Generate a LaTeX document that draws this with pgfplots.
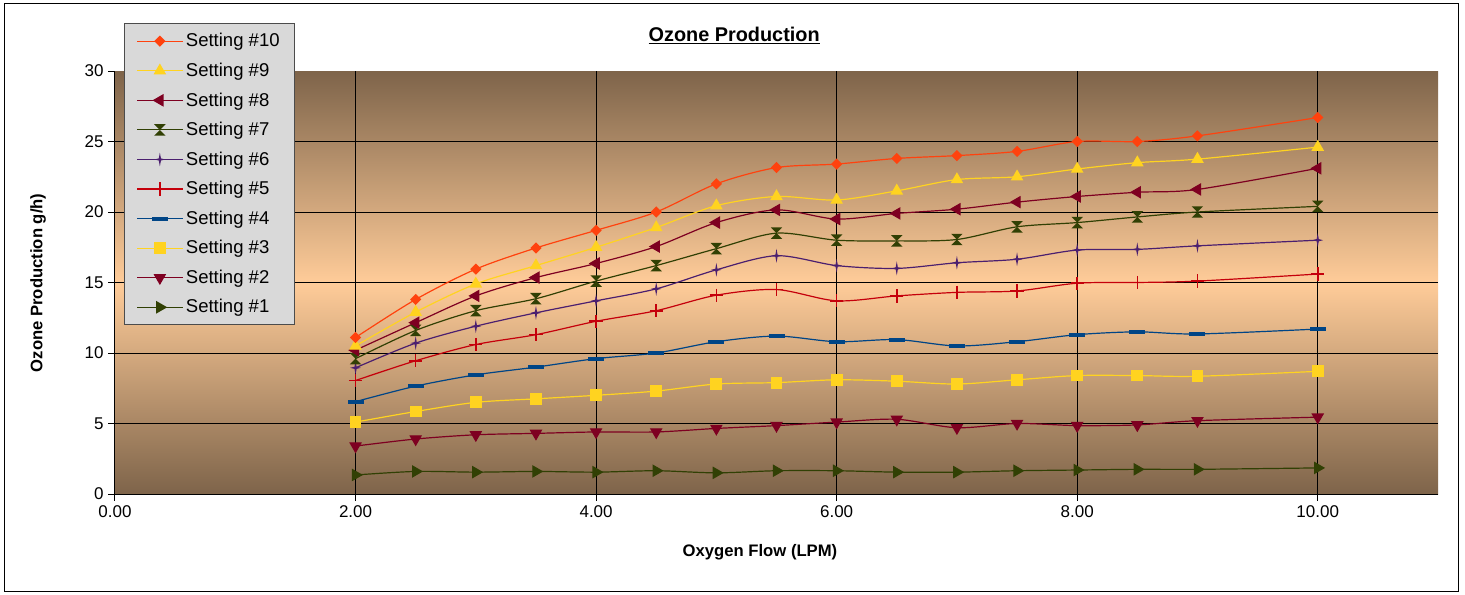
\documentclass[border=0pt]{standalone}
\usepackage{pgfplots}
\pgfplotsset{compat=1.18}
\usepackage{pgfplotstable}
\usepackage{fontspec}
\setmainfont{Liberation Sans}
\definecolor{bgbrown}{HTML}{7E644A}
\definecolor{bgpeach}{HTML}{FFCC99}
\definecolor{cOrange}{HTML}{FF420E}
\definecolor{cYellow}{HTML}{FFD320}
\definecolor{cDarkRed}{HTML}{7E0021}
\definecolor{cOlive}{HTML}{314004}
\definecolor{cPurple}{HTML}{4B1F6F}
\definecolor{cRed}{HTML}{C5000B}
\definecolor{cBlue}{HTML}{004586}
\definecolor{legfill}{HTML}{D9D9D9}

\pgfdeclareplotmark{mydiamond}{%
  \pgfpathmoveto{\pgfqpoint{0pt}{\pgfplotmarksize}}%
  \pgfpathlineto{\pgfqpoint{\pgfplotmarksize}{0pt}}%
  \pgfpathlineto{\pgfqpoint{0pt}{-\pgfplotmarksize}}%
  \pgfpathlineto{\pgfqpoint{-\pgfplotmarksize}{0pt}}%
  \pgfpathclose\pgfusepathqfill}
\pgfdeclareplotmark{hourglass}{%
  \pgfpathmoveto{\pgfqpoint{-\pgfplotmarksize}{\pgfplotmarksize}}%
  \pgfpathlineto{\pgfqpoint{\pgfplotmarksize}{\pgfplotmarksize}}%
  \pgfpathlineto{\pgfqpoint{-\pgfplotmarksize}{-\pgfplotmarksize}}%
  \pgfpathlineto{\pgfqpoint{\pgfplotmarksize}{-\pgfplotmarksize}}%
  \pgfpathclose\pgfusepathqfill}
\pgfdeclareplotmark{fourstar}{%
  \pgfpathmoveto{\pgfpoint{0pt}{1.3\pgfplotmarksize}}%
  \pgfpathlineto{\pgfpoint{0.2\pgfplotmarksize}{0.2\pgfplotmarksize}}%
  \pgfpathlineto{\pgfpoint{\pgfplotmarksize}{0pt}}%
  \pgfpathlineto{\pgfpoint{0.2\pgfplotmarksize}{-0.2\pgfplotmarksize}}%
  \pgfpathlineto{\pgfpoint{0pt}{-1.3\pgfplotmarksize}}%
  \pgfpathlineto{\pgfpoint{-0.2\pgfplotmarksize}{-0.2\pgfplotmarksize}}%
  \pgfpathlineto{\pgfpoint{-\pgfplotmarksize}{0pt}}%
  \pgfpathlineto{\pgfpoint{-0.2\pgfplotmarksize}{0.2\pgfplotmarksize}}%
  \pgfpathclose\pgfusepathqfill}
\pgfdeclareplotmark{hbar}{%
  \pgfpathrectangle{\pgfpoint{-\pgfplotmarksize}{-0.25\pgfplotmarksize}}{\pgfpoint{2\pgfplotmarksize}{0.5\pgfplotmarksize}}%
  \pgfusepathqfill}

\pgfplotstableread{
x    s1   s2   s3   s4    s5    s6    s7    s8    s9    s10
2    1.35 3.40 5.10 6.55  8.05  8.95  9.60  10.20 10.50 11.10
2.5  1.60 3.90 5.85 7.65  9.45  10.70 11.60 12.15 12.90 13.80
3    1.55 4.20 6.50 8.45  10.60 11.90 13.00 14.05 14.90 15.95
3.5  1.60 4.30 6.75 9.00  11.30 12.85 13.85 15.35 16.20 17.45
4    1.55 4.40 7.00 9.60  12.25 13.70 15.10 16.35 17.50 18.70
4.5  1.65 4.40 7.30 10.00 13.00 14.55 16.20 17.55 18.90 20.00
5    1.50 4.65 7.80 10.80 14.10 15.90 17.40 19.25 20.45 22.00
5.5  1.65 4.85 7.90 11.20 14.50 16.90 18.50 20.15 21.10 23.15
6    1.65 5.10 8.10 10.80 13.70 16.20 18.00 19.50 20.85 23.40
6.5  1.55 5.30 8.00 10.95 14.05 16.00 17.95 19.90 21.50 23.80
7    1.55 4.70 7.80 10.50 14.30 16.40 18.05 20.20 22.30 24.00
7.5  1.65 5.00 8.10 10.80 14.40 16.65 18.95 20.70 22.50 24.30
8    1.70 4.85 8.40 11.30 14.95 17.30 19.25 21.10 23.05 25.00
8.5  1.75 4.90 8.40 11.50 15.00 17.35 19.65 21.40 23.50 25.00
9    1.75 5.20 8.35 11.35 15.10 17.60 20.00 21.60 23.75 25.40
10   1.85 5.45 8.70 11.70 15.60 18.00 20.40 23.10 24.60 26.70
}\datatable

\begin{document}
\begin{tikzpicture}
\useasboundingbox (-86.25pt,-75pt) rectangle (1012.5pt,370.5pt);
\fill[white] (-86.25pt,-75pt) rectangle (1012.5pt,370.5pt);
\draw[black, line width=0.75pt] (-82.5pt,-72.75pt) rectangle (1007.25pt,367.5pt);
\begin{axis}[
  at={(0pt,0pt)}, anchor=south west,
  scale only axis,
  width=992.25pt, height=317.25pt,
  xmin=0, xmax=11, ymin=0, ymax=30,
  xtick={0,2,...,10},
  ytick={0,5,...,30},
  axis x line*=bottom, axis y line*=left,
  axis line style={black, line width=0.75pt, -},
  tick align=outside,
  major tick length=5pt,
  tick style={black, line width=0.75pt},
  xmajorgrids=true,
  ymajorgrids=false,
  extra y ticks={5,10,15,20,25},
  extra y tick labels={},
  extra y tick style={ymajorgrids=true, major tick length=0pt},
  grid style={black, line width=0.75pt},
  axis background/.style={top color=bgbrown, bottom color=bgbrown, middle color=bgpeach},
  /pgf/number format/assume math mode=true,
  xticklabel style={font=\fontsize{12.75}{14}\selectfont, /pgf/number format/.cd, fixed, fixed zerofill, precision=2},
  yticklabel style={font=\fontsize{12.75}{14}\selectfont},
  title={\textbf{\underline{Ozone Production}}},
  title style={at={(axis description cs:0.468,1.064)}, anchor=center, font=\fontsize{14.9}{17}\selectfont},
  xlabel={\textbf{Oxygen Flow (LPM)}},
  xlabel style={at={(axis description cs:0.4875,0)}, anchor=center, yshift=-43.5pt, font=\fontsize{12.5}{14}\selectfont},
  ylabel={\textbf{Ozone Production g/h)}},
  ylabel style={at={([xshift=-57.75pt]axis description cs:0,0.499)}, anchor=center, font=\fontsize{12.5}{14}\selectfont},
  reverse legend,
  legend cell align=left,
  legend style={at={(axis description cs:0.0068,1.1135)}, anchor=north west,
    fill=legfill, draw=black!70, line width=0.75pt,
    font=\fontsize{13.9}{15}\selectfont, row sep=6.6pt,
    inner xsep=9pt, inner ysep=5.5pt},
  legend image code/.code={\draw[mark repeat=2,mark phase=2] plot coordinates {(0cm,0cm)(0.6cm,0cm)(1.2cm,0cm)};},
  every axis plot/.append style={smooth, tension=0.5, line width=0.9pt},
]
\addplot[cOlive, mark=triangle*, mark size=4.6pt, mark options={rotate=-90, fill=cOlive, draw=none}] table[x=x,y=s1] {\datatable};
\addlegendentry{Setting \#1}
\addplot[cDarkRed, mark=triangle*, mark size=4.6pt, mark options={rotate=180, fill=cDarkRed, draw=none}] table[x=x,y=s2] {\datatable};
\addlegendentry{Setting \#2}
\addplot[cYellow, mark=square*, mark size=4pt, mark options={fill=cYellow, draw=none}] table[x=x,y=s3] {\datatable};
\addlegendentry{Setting \#3}
\addplot[cBlue, mark=hbar, mark size=6pt, mark options={fill=cBlue, draw=none}] table[x=x,y=s4] {\datatable};
\addlegendentry{Setting \#4}
\addplot[cRed, mark=+, mark size=5pt, mark options={line width=1.2pt, draw=cRed}] table[x=x,y=s5] {\datatable};
\addlegendentry{Setting \#5}
\addplot[cPurple, mark=fourstar, mark size=4pt, mark options={fill=cPurple, draw=none}] table[x=x,y=s6] {\datatable};
\addlegendentry{Setting \#6}
\addplot[cOlive, mark=hourglass, mark size=4.3pt, mark options={fill=cOlive, draw=none}] table[x=x,y=s7] {\datatable};
\addlegendentry{Setting \#7}
\addplot[cDarkRed, mark=triangle*, mark size=4.6pt, mark options={rotate=90, fill=cDarkRed, draw=none}] table[x=x,y=s8] {\datatable};
\addlegendentry{Setting \#8}
\addplot[cYellow, mark=triangle*, mark size=4.6pt, mark options={fill=cYellow, draw=none}] table[x=x,y=s9] {\datatable};
\addlegendentry{Setting \#9}
\addplot[cOrange, mark=mydiamond, mark size=4.2pt, mark options={fill=cOrange, draw=none}] table[x=x,y=s10] {\datatable};
\addlegendentry{Setting \#10}
\end{axis}
\end{tikzpicture}
\end{document}
